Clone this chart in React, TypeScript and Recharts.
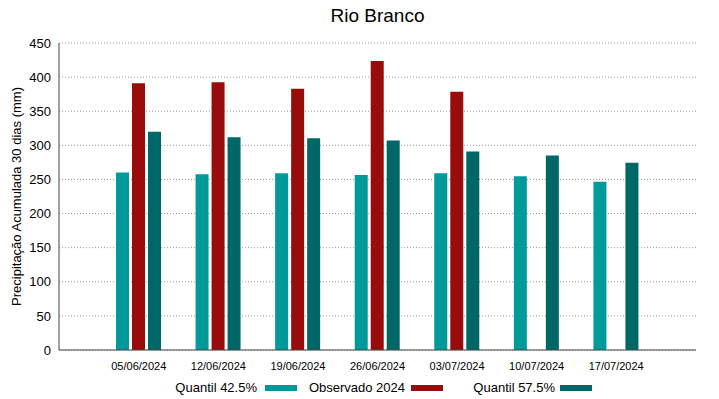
import React from 'react';
import { BarChart, Bar, XAxis, YAxis, CartesianGrid } from 'recharts';

const dates = ['05/06/2024', '12/06/2024', '19/06/2024', '26/06/2024', '03/07/2024', '10/07/2024', '17/07/2024'];
const quantil425 = [260, 257.5, 259, 256.5, 259, 254.5, 246.5];
const observado2024: (number | null)[] = [391, 392.5, 383, 423.5, 378.5, null, null];
const quantil575 = [320, 312, 310.5, 307, 291, 285, 274.5];
const yTicks = [0, 50, 100, 150, 200, 250, 300, 350, 400, 450];

const title = 'Rio Branco';
const yLabel = 'Precipitação Acumulada 30 dias (mm)';
const seriesNames = ['Quantil 42.5%', 'Observado 2024', 'Quantil 57.5%'];
const colors = ['#009a9a', '#990c0c', '#006666'];

const data = dates.map((d, i) => ({
  date: d,
  q425: quantil425[i],
  obs: observado2024[i],
  q575: quantil575[i],
}));

const FONT = '"Liberation Sans", Arial, sans-serif';

const legendPos = [
  { textRight: 257, swatch: 265 },
  { textRight: 405, swatch: 411 },
  { textRight: 555, swatch: 560 },
];

const LegendContent = () => (
  <div style={{ position: 'absolute', left: 0, top: 378, width: 719, height: 20, fontFamily: FONT, fontSize: 13, color: '#000' }}>
    {seriesNames.map((n, i) => (
      <React.Fragment key={n}>
        <span style={{ position: 'absolute', right: 719 - legendPos[i].textRight, top: 2, whiteSpace: 'nowrap', lineHeight: '16px' }}>{n}</span>
        <span style={{ position: 'absolute', left: legendPos[i].swatch, top: 7, width: 32, height: 6, background: colors[i] }} />
      </React.Fragment>
    ))}
  </div>
);

export default function App() {
  return (
    <div style={{ position: 'absolute', left: 0, top: 0, width: 719, height: 399, background: '#fff', fontFamily: FONT }}>
      <div style={{ position: 'absolute', left: 59, width: 637, top: 4, textAlign: 'center', fontSize: 19, lineHeight: '24px', color: '#000' }}>{title}</div>
      <BarChart
        width={719}
        height={399}
        data={data}
        margin={{ top: 43, right: 23, bottom: 29, left: 0 }}
        barSize={13}
        barGap={3}
      >
        <CartesianGrid vertical={false} stroke="#999" strokeDasharray="1 2" />
        <XAxis
          dataKey="date"
          padding={{ left: 40, right: 40 }}
          height={20}
          tick={{ fontSize: 11, fill: '#000', fontFamily: FONT }}
          tickLine={false}
          axisLine={{ stroke: '#444' }}
          interval={0}
          tickMargin={6}
        />
        <XAxis xAxisId="top" dataKey="date" orientation="top" height={0} tick={false} tickLine={false} axisLine={{ stroke: '#444' }} />
        <YAxis
          domain={[0, 450]}
          ticks={yTicks}
          width={59}
          tick={{ fontSize: 13, fill: '#000', fontFamily: FONT }}
          tickLine={false}
          axisLine={{ stroke: '#444' }}
          tickMargin={2}
          label={{ value: yLabel, angle: -90, position: 'insideLeft', dx: 11, dy: 0, style: { textAnchor: 'middle', fontSize: 13, fill: '#000', fontFamily: FONT } }}
        />
        <YAxis yAxisId="right" orientation="right" domain={[0, 450]} width={0} tick={false} tickLine={false} axisLine={{ stroke: '#444' }} />
        <Bar dataKey="q425" name={seriesNames[0]} fill={colors[0]} isAnimationActive={false} />
        <Bar dataKey="obs" name={seriesNames[1]} fill={colors[1]} isAnimationActive={false} />
        <Bar dataKey="q575" name={seriesNames[2]} fill={colors[2]} isAnimationActive={false} />
      </BarChart>
      <LegendContent />
    </div>
  );
}
